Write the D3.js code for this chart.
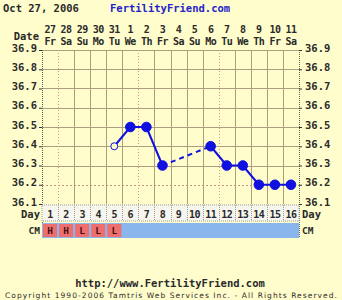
<!DOCTYPE html>
<html>
<head>
<meta charset="utf-8">
<script src="https://cdn.jsdelivr.net/npm/d3@7"></script>
<style>
  body { margin: 0; background: #fffdcc; }
  svg { display: block; }
  text { font-family: "DejaVu Sans Mono", monospace; font-weight: bold; fill: #2a2a2a; }
</style>
</head>
<body>
<svg id="chart" width="342" height="300"></svg>
<script>
// 数据
const dayNums = ["27", "28", "29", "30", "31", "1", "2", "3", "4", "5", "6", "7", "8", "9", "10", "11"];
const weekDays = ["Fr", "Sa", "Su", "Mo", "Tu", "We", "Th", "Fr", "Sa", "Su", "Mo", "Tu", "We", "Th", "Fr", "Sa"];
const cycleDays = [1, 2, 3, 4, 5, 6, 7, 8, 9, 10, 11, 12, 13, 14, 15, 16];
const temps = [null, null, null, null, 36.4, 36.5, 36.5, 36.3, null, null, 36.4, 36.3, 36.3, 36.2, 36.2, 36.2];
const openDays = [5]; // 空心点
const cmValues = ["H", "H", "L", "L", "L", "", "", "", "", "", "", "", "", "", "", ""];
const yTicks = [36.1, 36.2, 36.3, 36.4, 36.5, 36.6, 36.7, 36.8, 36.9];
const coverline = 36.2;

const svg = d3.select("#chart");
const plotL = 42, plotR = 299, plotT = 50, plotB = 204;

const x = d3.scaleBand().domain(cycleDays).range([plotL, plotR]);
const y = d3.scaleLinear().domain([36.1, 36.9]).range([plotB, plotT]);
const cx = d => x(d) + x.bandwidth() / 2;

// 标题
svg.append("text").attr("x", 3).attr("y", 12).style("font-size", "10.5px").text("Oct 27, 2006");
svg.append("text").attr("x", 110).attr("y", 12).style("font-size", "10.5px")
    .style("fill", "#2424c8").text("FertilityFriend.com");

// 日期行
svg.append("text").attr("x", 39).attr("y", 40).attr("text-anchor", "end")
    .style("font-size", "10.5px").text("Date");
svg.selectAll(".dnum").data(cycleDays).join("text")
    .attr("x", d => cx(d)).attr("y", 33).attr("text-anchor", "middle")
    .style("font-size", "10px").style("letter-spacing", "-0.5px")
    .text((d, i) => dayNums[i]);
svg.selectAll(".wday").data(cycleDays).join("text")
    .attr("x", d => cx(d)).attr("y", 45).attr("text-anchor", "middle")
    .style("font-size", "10px").style("letter-spacing", "-0.5px")
    .text((d, i) => weekDays[i]);

// 网格
const grid = svg.append("g");
yTicks.slice(1).forEach(t => {
    const isCover = t === coverline;
    grid.append("line")
        .attr("x1", plotL).attr("x2", plotR).attr("y1", Math.round(y(t)) + 0.5).attr("y2", Math.round(y(t)) + 0.5)
        .attr("stroke", isCover ? "#c89080" : "#ac9e80")
        .attr("stroke-dasharray", isCover ? "2,2" : null);
});
cycleDays.slice(0, -1).forEach(d => {
    const xv = Math.round(x(d) + x.bandwidth()) + 0.5;
    const week = d % 5 === 1;
    grid.append("line")
        .attr("x1", xv).attr("x2", xv).attr("y1", plotT).attr("y2", plotB)
        .attr("stroke", week ? "#e09090" : "#ac9e80")
        .attr("stroke-dasharray", week ? "1,2" : null);
});
[plotL, plotR].forEach(xv => {
    grid.append("line")
        .attr("x1", xv + 0.5).attr("x2", xv + 0.5).attr("y1", plotT).attr("y2", 238)
        .attr("stroke", "#556655").attr("stroke-dasharray", "1,1");
});

// 纵轴
const yl = svg.append("g").attr("transform", `translate(${plotL},0)`)
    .call(d3.axisLeft(y).tickValues(yTicks).tickSize(3).tickFormat(d3.format(".1f")));
yl.select(".domain").remove();
yl.selectAll("line").attr("stroke", "#333");
yl.selectAll("text").style("font-size", "10.5px").attr("fill", null).attr("dx", "1px").attr("dy", "0.1em");

const yr = svg.append("g").attr("transform", `translate(${plotR},0)`)
    .call(d3.axisRight(y).tickValues(yTicks).tickSize(3).tickFormat(d3.format(".1f")));
yr.select(".domain").remove();
yr.selectAll("line").attr("stroke", "#333");
yr.selectAll("text").style("font-size", "10.5px").attr("fill", null).attr("dy", "0.1em");
svg.selectAll("g").attr("font-family", null).attr("font-size", null);

// Day 行
const dayY = 205, dayH = 16, cmY = 223, cmH = 15;
svg.append("rect").attr("x", plotL).attr("y", dayY).attr("width", plotR - plotL).attr("height", dayH)
    .attr("fill", "#f6f6ee").attr("stroke", "#999").attr("stroke-dasharray", "1,1");
cycleDays.slice(0, -1).forEach(d => {
    const xv = Math.round(x(d) + x.bandwidth()) + 0.5;
    svg.append("line").attr("x1", xv).attr("x2", xv).attr("y1", dayY).attr("y2", dayY + dayH)
        .attr("stroke", "#999").attr("stroke-dasharray", "1,1");
});
svg.selectAll(".dayn").data(cycleDays).join("text")
    .attr("x", d => cx(d)).attr("y", dayY + 13).attr("text-anchor", "middle")
    .style("font-size", "10px").style("letter-spacing", "-0.5px").text(d => d);
svg.append("text").attr("x", 40).attr("y", dayY + 13).attr("text-anchor", "end").style("font-size", "10.5px").text("Day");
svg.append("text").attr("x", 302).attr("y", dayY + 13).style("font-size", "10.5px").text("Day");

// CM 行
svg.append("rect").attr("x", plotL).attr("y", cmY).attr("width", plotR - plotL).attr("height", cmH)
    .attr("fill", "#8ab6ee");
svg.selectAll(".cm").data(cycleDays.filter((d, i) => cmValues[i])).join("rect")
    .attr("x", d => x(d) + 1).attr("y", cmY + 1).attr("width", x.bandwidth() - 2).attr("height", cmH - 2)
    .attr("fill", "#ee6e6e");
svg.selectAll(".cmt").data(cycleDays.filter((d, i) => cmValues[i])).join("text")
    .attr("x", d => cx(d)).attr("y", cmY + 11).attr("text-anchor", "middle")
    .style("font-size", "9.5px").style("fill", "#4a1010").text(d => cmValues[d - 1]);
svg.append("text").attr("x", 40).attr("y", cmY + 11).attr("text-anchor", "end").style("font-size", "9.5px").text("CM");
svg.append("text").attr("x", 302).attr("y", cmY + 11).style("font-size", "9.5px").text("CM");

// 体温线
const pts = cycleDays.map((d, i) => ({ d, t: temps[i] })).filter(p => p.t !== null);
const line = d3.line().x(p => cx(p.d)).y(p => y(p.t));
for (let i = 0; i < pts.length - 1; i++) {
    const a = pts[i], b = pts[i + 1];
    svg.append("path").datum([a, b]).attr("d", line)
        .attr("fill", "none").attr("stroke", "#1010e0").attr("stroke-width", 2)
        .attr("stroke-dasharray", b.d - a.d > 1 ? "5,4" : null);
}
svg.selectAll(".pt").data(pts).join("circle")
    .attr("cx", p => cx(p.d)).attr("cy", p => y(p.t))
    .attr("r", p => openDays.includes(p.d) ? 3.5 : 4.8)
    .attr("fill", p => openDays.includes(p.d) ? "#fffdcc" : "#1010e0")
    .attr("stroke", "#1010e0").attr("stroke-width", 1);

// 页脚
svg.append("text").attr("x", 170).attr("y", 287).attr("text-anchor", "middle")
    .style("font-size", "10.5px").text("http://www.FertilityFriend.com");
svg.append("text").attr("x", 5).attr("y", 298)
    .attr("textLength", 332).attr("lengthAdjust", "spacing")
    .style("font-size", "7.5px").style("font-family", "DejaVu Sans, sans-serif").style("font-weight", "normal")
    .text("Copyright 1990-2006 Tamtris Web Services Inc. - All Rights Reserved.");
</script>
</body>
</html>
